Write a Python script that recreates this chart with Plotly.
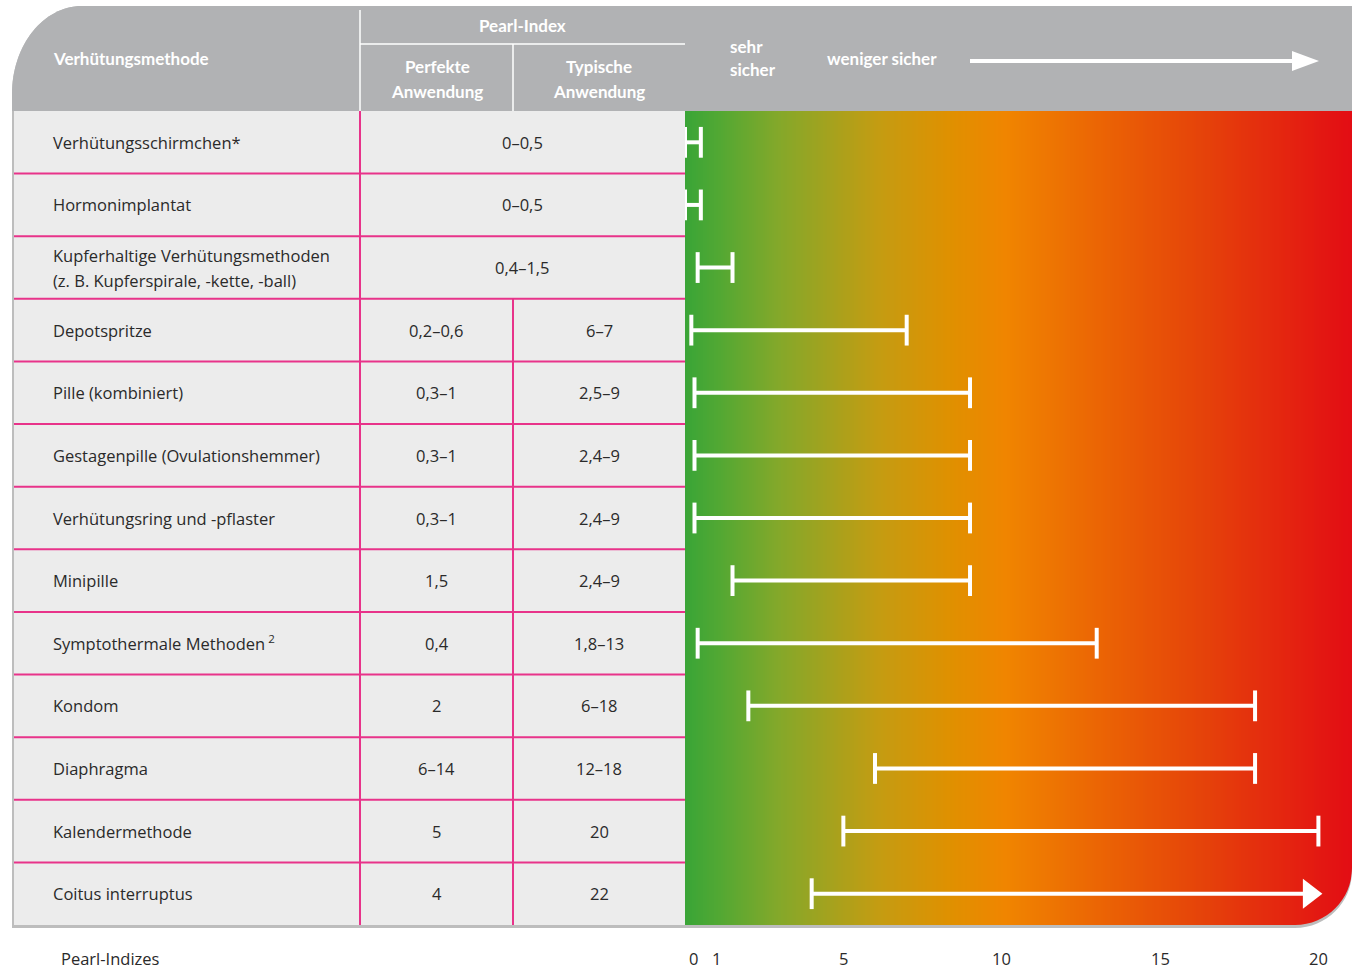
import numpy as np
import plotly.graph_objects as go

W, H = 1352, 970

# ---------------- data ----------------
methods = [
    "Verhütungsschirmchen*",
    "Hormonimplantat",
    "Kupferhaltige Verhütungsmethoden<br>(z. B. Kupferspirale, -kette, -ball)",
    "Depotspritze",
    "Pille (kombiniert)",
    "Gestagenpille (Ovulationshemmer)",
    "Verhütungsring und -pflaster",
    "Minipille",
    "Symptothermale Methoden<sup> 2</sup>",
    "Kondom",
    "Diaphragma",
    "Kalendermethode",
    "Coitus interruptus",
]
perfect_use = ["0–0,5", "0–0,5", "0,4–1,5", "0,2–0,6", "0,3–1", "0,3–1", "0,3–1",
               "1,5", "0,4", "2", "6–14", "5", "4"]
typical_use = ["", "", "", "6–7", "2,5–9", "2,4–9", "2,4–9", "2,4–9", "1,8–13",
               "6–18", "12–18", "20", "22"]
range_min = [0, 0, 0.4, 0.2, 0.3, 0.3, 0.3, 1.5, 0.4, 2, 6, 5, 4]
range_max = [0.5, 0.5, 1.5, 7, 9, 9, 9, 9, 13, 18, 18, 20, 22]
tick_vals = [0, 1, 5, 10, 15, 20]
tick_text = ["0", "1", "5", "10", "15", "20"]
AXIS_SHOWN_MAX = 20

# ---------------- geometry (pixels) ----------------
LEFT, TOP, HEAD_B, BOT = 12, 6, 111, 925
C1, C2, C3 = 360, 513, 685
PX_PER_UNIT = 31.67
XMAX = (W - C3) / PX_PER_UNIT
n = len(methods)

def px(x):
    return x / W

def py(y):
    return 1 - y / H

def P(x, y):
    return f"{px(x):.6f},{py(y):.6f}"

K = 0.5523
FONT = "Open Sans"
HFONT = "Lato"
TXT = "#2a2a2a"
PINK = "#e8338a"
HEAD = "#b1b2b4"
CELL = "#ececec"
RIM = "#bdbdbd"
BODY_SIZE = 16.5

fig = go.Figure()

# gradient background via heatmap
edges = np.linspace(0, XMAX, 301)
fig.add_trace(go.Heatmap(
    x=edges, y=[-0.5, n - 0.5], z=[list(range(300))],
    colorscale=[[0.0, "#3aa537"], [0.05, "#52a833"], [0.14, "#84a82a"],
                [0.29, "#c49c12"], [0.40, "#e09000"], [0.48, "#f08500"],
                [0.62, "#eb6504"], [0.78, "#e5420a"], [1.0, "#e30d14"]],
    showscale=False, hoverinfo="skip", zsmooth=False,
))

# range bars
for i in range(n):
    lo = range_min[i]
    hi = range_max[i]
    if hi > AXIS_SHOWN_MAX:
        tip = AXIS_SHOWN_MAX
        head_c = tip - 9 / PX_PER_UNIT
        fig.add_trace(go.Scatter(
            x=[lo, head_c], y=[i, i], mode="lines",
            line=dict(color="white", width=4),
            hoverinfo="skip", showlegend=False,
        ))
        fig.add_trace(go.Scatter(
            x=[lo], y=[i], mode="markers",
            marker=dict(symbol="line-ns", size=22, color="white",
                        line=dict(color="white", width=4)),
            hoverinfo="skip", showlegend=False,
        ))
        fig.add_trace(go.Scatter(
            x=[head_c], y=[i], mode="markers",
            marker=dict(symbol="triangle-right", size=26, color="#ffffff",
                        opacity=1, line=dict(width=0)),
            hoverinfo="skip", showlegend=False,
        ))
    else:
        fig.add_trace(go.Scatter(
            x=[lo, hi], y=[i, i], mode="lines+markers",
            line=dict(color="white", width=4),
            marker=dict(symbol="line-ns", size=22, color="white",
                        line=dict(color="white", width=4)),
            hoverinfo="skip", showlegend=False,
        ))

shapes = []
rx, ry = 70, 88
shapes.append(dict(
    type="path", xref="paper", yref="paper", layer="below",
    path=(f"M {P(LEFT, BOT+3)} L {P(LEFT, TOP+ry)} "
          f"C {P(LEFT, TOP+ry-K*ry)} {P(LEFT+rx-K*rx, TOP)} {P(LEFT+rx, TOP)} "
          f"L {P(W, TOP)} L {P(W, BOT+3)} Z"),
    fillcolor=RIM, line=dict(width=0)))
shapes.append(dict(
    type="path", xref="paper", yref="paper", layer="below",
    path=(f"M {P(LEFT, HEAD_B)} L {P(LEFT, TOP+ry)} "
          f"C {P(LEFT, TOP+ry-K*ry)} {P(LEFT+rx-K*rx, TOP)} {P(LEFT+rx, TOP)} "
          f"L {P(W, TOP)} L {P(W, HEAD_B)} Z"),
    fillcolor=HEAD, line=dict(width=0)))
shapes.append(dict(type="rect", xref="paper", yref="paper", layer="below",
                   x0=px(LEFT+2), x1=px(C3), y0=py(BOT), y1=py(HEAD_B),
                   fillcolor=CELL, line=dict(width=0)))
for i in range(n - 1):
    shapes.append(dict(type="line", xref="paper", yref="y", layer="below",
                       x0=px(LEFT+2), x1=px(C3), y0=i + 0.5, y1=i + 0.5,
                       line=dict(color=PINK, width=2)))
shapes.append(dict(type="line", xref="paper", yref="y", layer="below",
                   x0=px(C1), x1=px(C1), y0=-0.5, y1=n - 0.5,
                   line=dict(color=PINK, width=2)))
merged = [i for i in range(n) if typical_use[i] == ""]
shapes.append(dict(type="line", xref="paper", yref="y", layer="below",
                   x0=px(C2), x1=px(C2), y0=max(merged) + 0.5, y1=n - 0.5,
                   line=dict(color=PINK, width=2)))
shapes.append(dict(type="line", xref="paper", yref="paper", layer="below",
                   x0=px(C1), x1=px(C1), y0=py(10), y1=py(HEAD_B),
                   line=dict(color="white", width=1.5)))
shapes.append(dict(type="line", xref="paper", yref="paper", layer="below",
                   x0=px(C1), x1=px(C3), y0=py(44), y1=py(44),
                   line=dict(color="white", width=1.5)))
shapes.append(dict(type="line", xref="paper", yref="paper", layer="below",
                   x0=px(C2), x1=px(C2), y0=py(44), y1=py(HEAD_B),
                   line=dict(color="white", width=1.5)))
r = 57
shapes.append(dict(
    type="path", xref="paper", yref="paper", layer="above",
    path=(f"M {P(W, BOT-r)} C {P(W, BOT-r+K*r)} {P(W-r+K*r, BOT)} {P(W-r, BOT)} "
          f"L {P(W-r, BOT+3)} L {P(W, BOT+3)} Z"),
    fillcolor=RIM, line=dict(width=0)))
shapes.append(dict(
    type="path", xref="paper", yref="paper", layer="above",
    path=(f"M {P(W, BOT-r+3)} C {P(W, BOT-r+3+K*r)} {P(W-r+K*r, BOT+3)} {P(W-r, BOT+3)} "
          f"L {P(W-r, BOT+6)} L {P(W+2, BOT+6)} L {P(W+2, BOT-r+3)} Z"),
    fillcolor="white", line=dict(width=0)))
shapes.append(dict(type="line", xref="paper", yref="paper", layer="above",
                   x0=px(970), x1=px(1296), y0=py(61), y1=py(61),
                   line=dict(color="white", width=4)))
shapes.append(dict(
    type="path", xref="paper", yref="paper", layer="above",
    path=f"M {P(1292, 51)} L {P(1319, 61)} L {P(1292, 71)} Z",
    fillcolor="white", line=dict(width=0)))

ann = []
def T(text, x, y, size=BODY_SIZE, color=TXT, xanchor="left", bold=False,
      xref="paper", yref="paper", family=FONT, yshift=0):
    if bold:
        text = f"<b>{text}</b>"
    ann.append(dict(text=text, x=x, y=y, xref=xref, yref=yref, showarrow=False,
                    xanchor=xanchor, yanchor="middle", yshift=yshift,
                    font=dict(family=family, size=size, color=color)))

HS = 17
# header texts
T("Verhütungsmethode", px(51), py(58), size=HS, color="white", bold=True, family=HFONT)
T("Pearl-Index", px(522), py(25), size=HS, color="white", xanchor="center", bold=True, family=HFONT)
T("Perfekte", px(437), py(67), size=HS, color="white", xanchor="center", bold=True, family=HFONT)
T("Anwendung", px(437), py(91), size=HS, color="white", xanchor="center", bold=True, family=HFONT)
T("Typische", px(599), py(67), size=HS, color="white", xanchor="center", bold=True, family=HFONT)
T("Anwendung", px(599), py(91), size=HS, color="white", xanchor="center", bold=True, family=HFONT)
T("sehr", px(728), py(46), size=HS, color="white", bold=True, family=HFONT)
T("sicher", px(728), py(70), size=HS, color="white", bold=True, family=HFONT)
T("weniger sicher", px(825), py(58), size=HS, color="white", bold=True, family=HFONT)

# rows
for i in range(n):
    lines = methods[i].split("<br>")
    if len(lines) == 1:
        T(lines[0], px(51), i, yref="y")
    else:
        T(lines[0], px(51), i, yref="y", yshift=12.5)
        T(lines[1], px(51), i, yref="y", yshift=-12.5)
    if typical_use[i] == "":
        T(perfect_use[i], px((C1 + C3) / 2), i, yref="y", xanchor="center")
    else:
        T(perfect_use[i], px((C1 + C2) / 2), i, yref="y", xanchor="center")
        T(typical_use[i], px((C2 + C3) / 2), i, yref="y", xanchor="center")

# axis labels
T("Pearl-Indizes", px(59), py(958))
for v, t in zip(tick_vals, tick_text):
    ann.append(dict(text=t, x=v, y=py(958), xref="x", yref="paper", showarrow=False,
                    xanchor="center", yanchor="middle", xshift=9 if v == 0 else 0,
                    font=dict(family=FONT, size=BODY_SIZE, color=TXT)))

fig.update_layout(
    width=W, height=H, margin=dict(l=0, r=0, t=0, b=0),
    paper_bgcolor="white", plot_bgcolor="white",
    xaxis=dict(domain=[px(C3), 1], range=[0, XMAX], visible=False, fixedrange=True),
    yaxis=dict(domain=[py(BOT), py(HEAD_B)], range=[n - 0.5, -0.5], visible=False, fixedrange=True),
    shapes=shapes, annotations=ann, showlegend=False,
)
fig.write_html("out.html", config={"displayModeBar": False},
               post_script="document.body.style.margin='0';document.body.style.overflow='hidden';")
